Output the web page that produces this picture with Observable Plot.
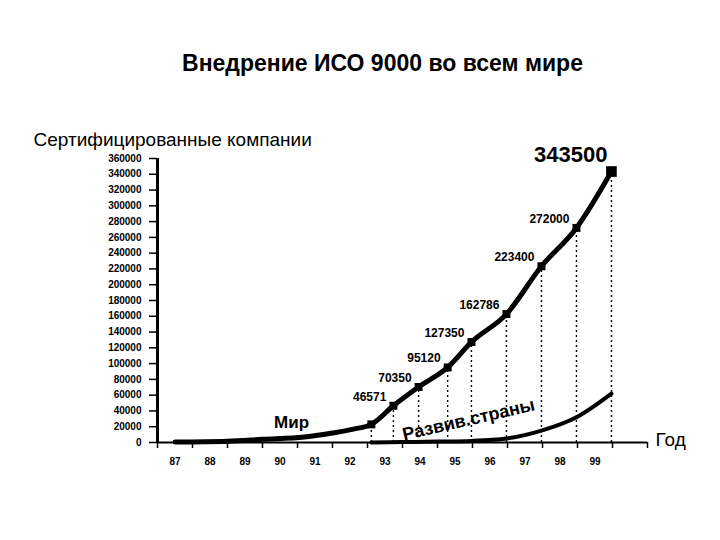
<!DOCTYPE html>
<html><head><meta charset="utf-8">
<script src="https://cdn.jsdelivr.net/npm/d3@7"></script>
<script src="https://cdn.jsdelivr.net/npm/@observablehq/plot@0.6"></script>
<style>body{margin:0;background:#fff} svg{display:block}</style>
</head><body><div id="chart"></div>
<script>
const title = "Внедрение ИСО 9000 во всем мире";
const yTitle = "Сертифицированные компании";
const xTitle = "Год";
const yearTicks = [87, 88, 89, 90, 91, 92, 93, 94, 95, 96, 97, 98, 99];
const yearLabels = ["87", "88", "89", "90", "91", "92", "93", "94", "95", "96", "97", "98", "99"];
const yTicks = [0, 20000, 40000, 60000, 80000, 100000, 120000, 140000, 160000, 180000, 200000, 220000, 240000, 260000, 280000, 300000, 320000, 340000, 360000];

// "Мир" (world) series: position along the year axis, certified companies
const worldYears = [87, 88.5, 89.5, 90.7, 91.5, 92.1, 92.61, 93.24, 93.96, 94.79, 95.47, 96.47, 97.47, 98.47, 99.47];
const worldValues = [500, 1500, 4000, 7000, 12000, 17000, 23000, 46571, 70350, 95120, 127350, 162786, 223400, 272000, 343500];
const worldLabels = ["", "", "", "", "", "", "", "46571", "70350", "95120", "127350", "162786", "223400", "272000", "343500"];

// "Развив. страны" (developing countries) series
const devYears = [92.61, 93.5, 94.5, 95.47, 96.47, 97.47, 98.47, 99.47];
const devValues = [0, 500, 1200, 2000, 5000, 15000, 32000, 62000];

// series annotations
const annoText = ["Мир", "Развив.страны"];
const annoYears = [90.33, 95.39];
const annoValues = [25300, 29000];

const world = worldYears.map((x, i) => ({x, y: worldValues[i], label: worldLabels[i], i}));
const dev = devYears.map((x, i) => ({x, y: devValues[i]}));
const markers = world.filter(d => d.i >= 6);
const labeled = world.filter(d => d.label && d.i < world.length - 1);
const peak = world.filter(d => d.i === world.length - 1);
const bandTicks = d3.range(86.5, 100.51, 1);

const font = "Liberation Sans, Arial, sans-serif";

const chart = Plot.plot({
  width: 720, height: 540,
  marginLeft: 157, marginRight: 73, marginTop: 158, marginBottom: 98,
  style: {fontFamily: font, color: "#000", background: "#fff"},
  x: {domain: [86.5, 100.5]},
  y: {domain: [0, 360000]},
  marks: [
    Plot.ruleX(markers, {x: "x", y1: 0, y2: "y", stroke: "#000", strokeWidth: 1.4, strokeDasharray: "2,3"}),
    Plot.ruleY([0], {stroke: "#000", strokeWidth: 2}),
    Plot.ruleX([86.5], {y1: 0, y2: 360000, stroke: "#000", strokeWidth: 3}),
    Plot.axisY({ticks: yTicks, tickSize: 8, tickPadding: 8, tickFormat: d => String(d), fontSize: 10, fontWeight: "bold", label: null, strokeWidth: 1.5}),
    Plot.axisX({ticks: bandTicks, tickSize: 6, tickFormat: () => "", label: null, strokeWidth: 1.5}),
    Plot.axisX({ticks: yearTicks, tickSize: 0, tickPadding: 15, tickFormat: d => yearLabels[yearTicks.indexOf(d)], fontSize: 10, fontWeight: "bold", label: null}),
    Plot.line(dev, {x: "x", y: "y", stroke: "#000", strokeWidth: 4, curve: "monotone-x"}),
    Plot.line(world, {x: "x", y: "y", stroke: "#000", strokeWidth: 5, curve: "monotone-x"}),
    Plot.dot(markers.filter(d => d.i < world.length - 1), {x: "x", y: "y", symbol: "square", r: 4.5, fill: "#000"}),
    Plot.dot(peak, {x: "x", y: "y", symbol: "square", r: 6, fill: "#000"}),
    Plot.text(labeled, {x: "x", y: "y", text: "label", textAnchor: "end", dx: -7, dy: -9, fontSize: 12, fontWeight: "bold"}),
    Plot.text(peak, {x: "x", y: "y", text: "label", textAnchor: "end", dx: -4, dy: -17, fontSize: 22, fontWeight: "bold"}),
    Plot.text([annoText[0]], {x: annoYears[0], y: annoValues[0], text: d => d, fontSize: 17, fontWeight: "bold"}),
    Plot.text([annoText[1]], {x: annoYears[1], y: annoValues[1], text: d => d, fontSize: 18, fontWeight: "bold", rotate: -13}),
    Plot.text([title], {frameAnchor: "top", dx: -20, dy: -104, text: d => d, fontSize: 23, fontWeight: "bold"}),
    Plot.text([yTitle], {frameAnchor: "top-left", textAnchor: "start", dx: -124, dy: -26, text: d => d, fontSize: 19}),
    Plot.text([xTitle], {frameAnchor: "bottom-right", textAnchor: "start", dx: 8, dy: 3, text: d => d, fontSize: 19})
  ]
});
document.getElementById("chart").appendChild(chart);
</script>
</body></html>
